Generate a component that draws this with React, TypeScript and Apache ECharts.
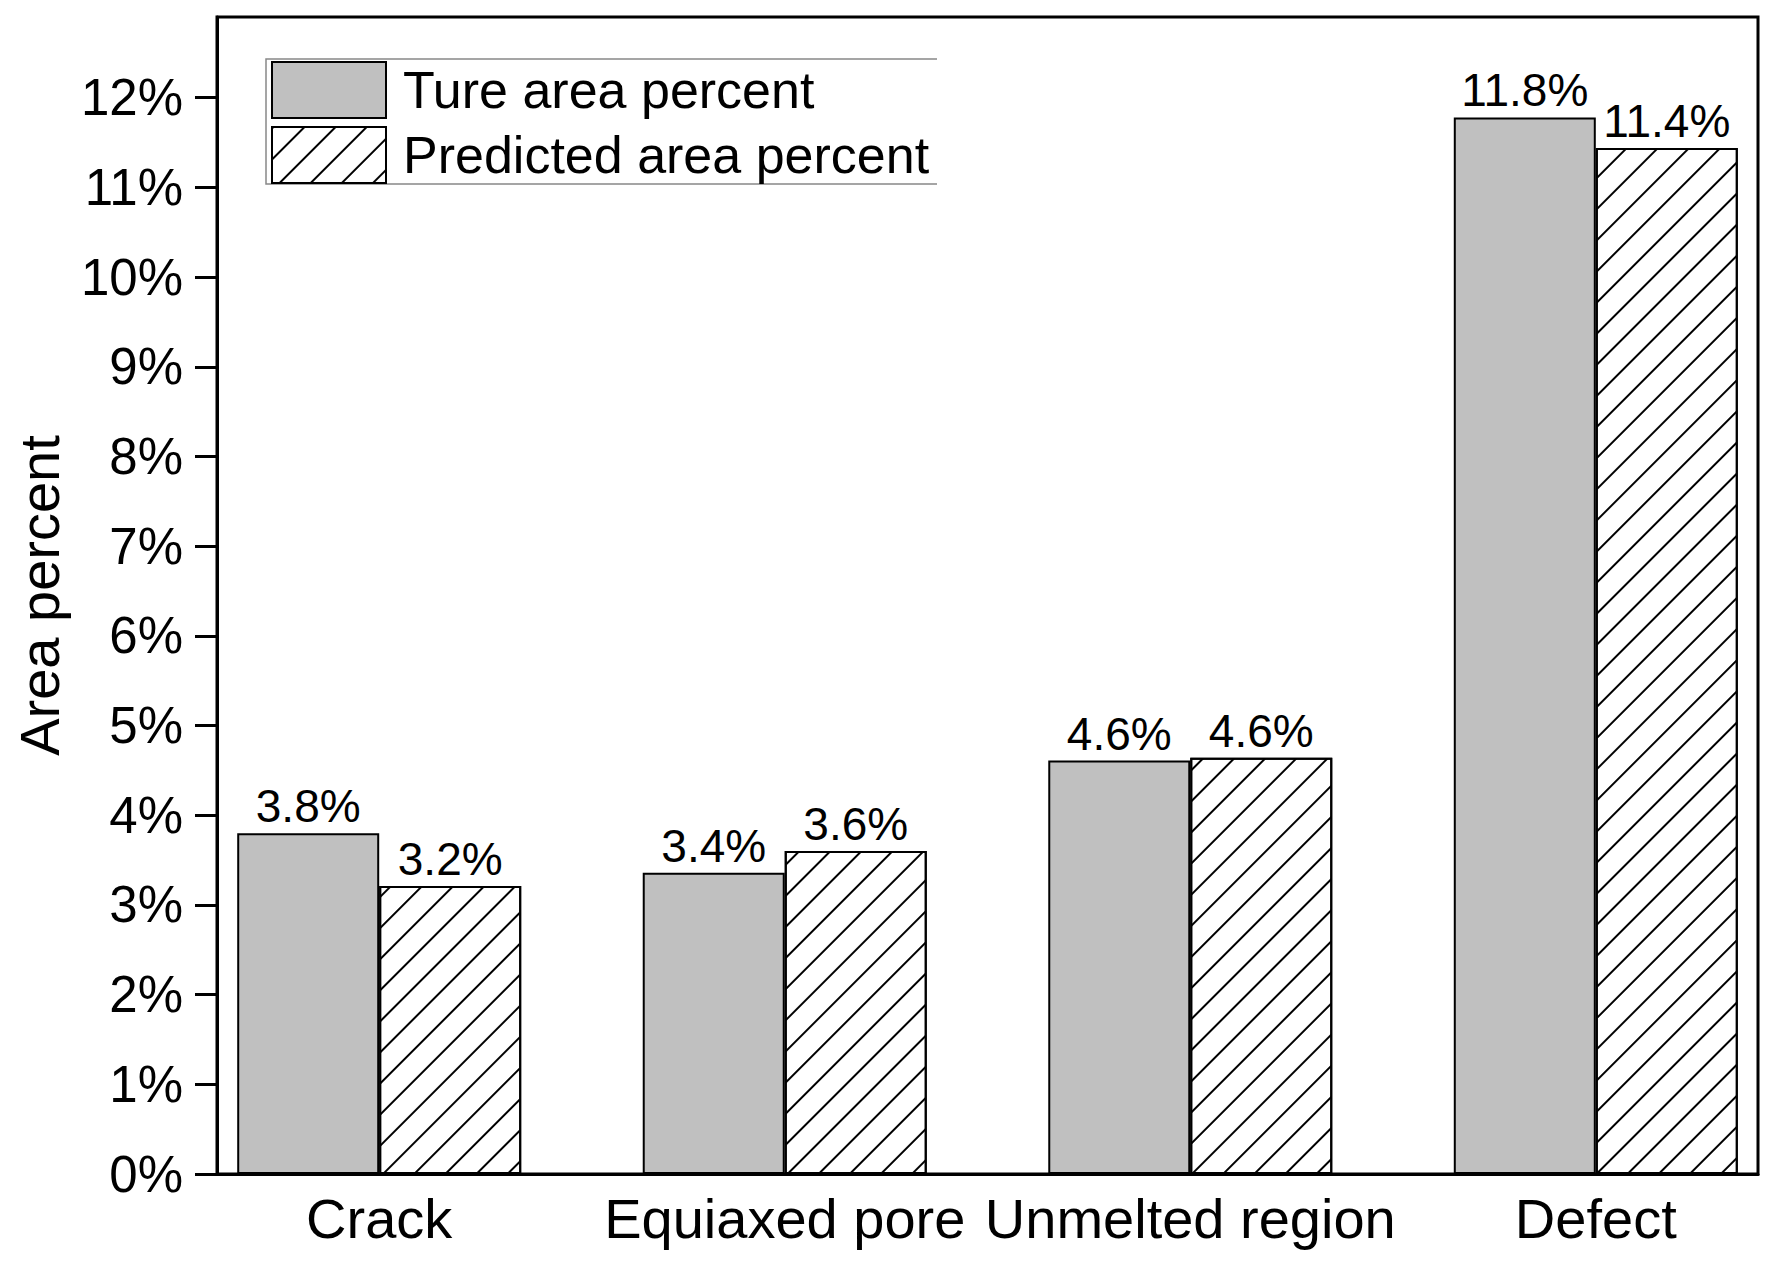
import React, { useEffect, useRef } from "react";
import * as echarts from "echarts";

const categories = ["Crack", "Equiaxed pore", "Unmelted region", "Defect"];
const trueArea = [3.8, 3.36, 4.61, 11.78];
const predictedArea = [3.21, 3.6, 4.64, 11.44];
const yTicks = [0, 1, 2, 3, 4, 5, 6, 7, 8, 9, 10, 11, 12];
const seriesNames = ["Ture area percent", "Predicted area percent"];

const FONT = "'Liberation Sans', Arial, Helvetica, sans-serif";

export default function App() {
  const ref = useRef<HTMLDivElement>(null);
  useEffect(() => {
    if (!ref.current) return;
    const chart = echarts.init(ref.current, undefined, { renderer: "svg" });
    const xPos = categories.map((_, i) => i + 1);
    chart.setOption({
      animation: false,
      backgroundColor: "#ffffff",
      textStyle: { fontFamily: FONT, color: "#000" },
      grid: {
        left: 217,
        top: 17,
        width: 1541,
        height: 1157,
        show: true,
        borderColor: "#000",
        borderWidth: 3,
        backgroundColor: "transparent",
      },
      legend: {
        orient: "vertical",
        left: 271,
        top: 59,
        padding: [2, 0, 0, 0],
        itemWidth: 114,
        itemHeight: 56,
        itemGap: 7,
        icon: "rect",
        textStyle: { fontFamily: FONT, fontSize: 52, color: "#000", padding: [0, 0, 0, 12] },
        data: seriesNames,
      },
      graphic: [
        {
          type: "polyline",
          shape: { points: [[937, 59], [266, 59], [266, 184], [937, 184]] },
          style: { stroke: "#888", lineWidth: 1.5, fill: null },
          silent: true,
        },
      ],
      xAxis: {
        type: "value",
        min: 0.6,
        max: 4.4,
        splitLine: { show: false },
        axisLine: { show: true, lineStyle: { color: "#000", width: 3 } },
        axisTick: { show: false },
        axisLabel: {
          customValues: xPos,
          formatter: (v: number) => categories[Math.round(v) - 1] ?? "",
          fontFamily: FONT,
          fontSize: 56,
          color: "#000",
          margin: 16,
        },
      },
      yAxis: {
        type: "value",
        min: 0,
        max: 12.9,
        name: "Area percent",
        nameLocation: "middle",
        nameGap: 150,
        nameTextStyle: { fontFamily: FONT, fontSize: 56, color: "#000" },
        splitLine: { show: false },
        axisLine: { show: true, lineStyle: { color: "#000", width: 3 } },
        axisTick: {
          show: true,
          inside: false,
          length: 22,
          customValues: yTicks,
          lineStyle: { color: "#000", width: 3 },
        },
        axisLabel: {
          customValues: yTicks,
          formatter: (v: number) => `${v}%`,
          fontFamily: FONT,
          fontSize: 51,
          color: "#000",
          margin: 34,
        },
      },
      series: [
        {
          name: seriesNames[0],
          type: "bar",
          barWidth: 142,
          barGap: "0%",
          data: xPos.map((x, i) => [x, trueArea[i]]),
          itemStyle: { color: "#c0c0c0", borderColor: "#000", borderWidth: 2 },
          label: {
            show: true,
            position: "top",
            distance: 4,
            formatter: (p: any) => `${p.value[1].toFixed(1)}%`,
            fontFamily: FONT,
            fontSize: 46,
            color: "#000",
          },
        },
        {
          name: seriesNames[1],
          type: "bar",
          barWidth: 142,
          barGap: "0%",
          data: xPos.map((x, i) => [x, predictedArea[i]]),
          itemStyle: {
            color: "#ffffff",
            borderColor: "#000",
            borderWidth: 2,
            decal: {
              symbol: "rect",
              symbolSize: 1,
              color: "#000",
              dashArrayX: [1, 0],
              dashArrayY: [1.6, 20],
              rotation: -Math.PI / 4,
            },
          },
          label: {
            show: true,
            position: "top",
            distance: 4,
            formatter: (p: any) => `${p.value[1].toFixed(1)}%`,
            fontFamily: FONT,
            fontSize: 46,
            color: "#000",
          },
        },
      ],
    });
    return () => chart.dispose();
  }, []);
  return (
    <div
      ref={ref}
      style={{ position: "fixed", left: 0, top: 0, width: 1775, height: 1264 }}
    />
  );
}
